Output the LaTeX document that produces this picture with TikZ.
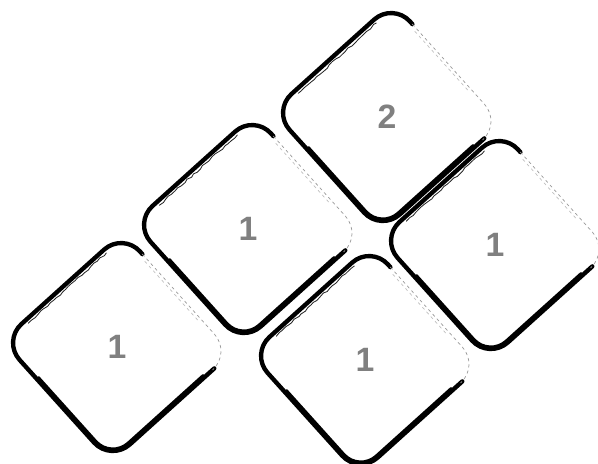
\documentclass[tikz,border=0pt]{standalone}
\usepackage{fontspec}
\setsansfont{Liberation Sans}
\usetikzlibrary{decorations.pathmorphing}

\tikzset{
  tilepen/.style={line width=3.1pt,rounded corners=18pt},
  tileheavy/.style={line width=1.6pt,rounded corners=16pt},
  tilescratch/.style={line width=0.6pt,black!85,
    decorate,decoration={random steps,segment length=3pt,amplitude=0.6pt}},
  tilefade/.style={line width=0.5pt,gray!80,rounded corners=18pt,
    dash pattern=on 2pt off 2.5pt},
  num/.style={text=gray,font=\sffamily\bfseries\fontsize{24}{24}\selectfont}
}

% one tile: name, centre, label
\newcommand\sketchtile[3]{%
  \begin{scope}[shift={#2},rotate=42]
    \draw[tilepen] (58,-81) -- (-81,-81) -- (-81,81) -- (81,81) -- (81,52);
    \draw[tileheavy] (45,-78.5) -- (-78.5,-78.5) -- (-78.5,30);
    \draw[tilescratch] (-50,77) -- (55,77);
    \draw[tilefade] (81,52) -- (81,-81) -- (58,-81);
    \draw[tilefade,gray!50] (78,45) -- (78,-35);
  \end{scope}
  \node[num] (#1) at #2 {#3};
}

\begin{document}
\begin{tikzpicture}[x=0.025cm,y=0.025cm,line cap=round,line join=round]
\pgfmathsetseed{7}
\useasboundingbox (0,0) rectangle (598,463);
\sketchtile{lowleft}{(117,116)}{1}
\sketchtile{midleft}{(248,234)}{1}
\sketchtile{top}{(387,346)}{2}
\sketchtile{right}{(495,218)}{1}
\sketchtile{low}{(365,103)}{1}
\end{tikzpicture}
\end{document}
